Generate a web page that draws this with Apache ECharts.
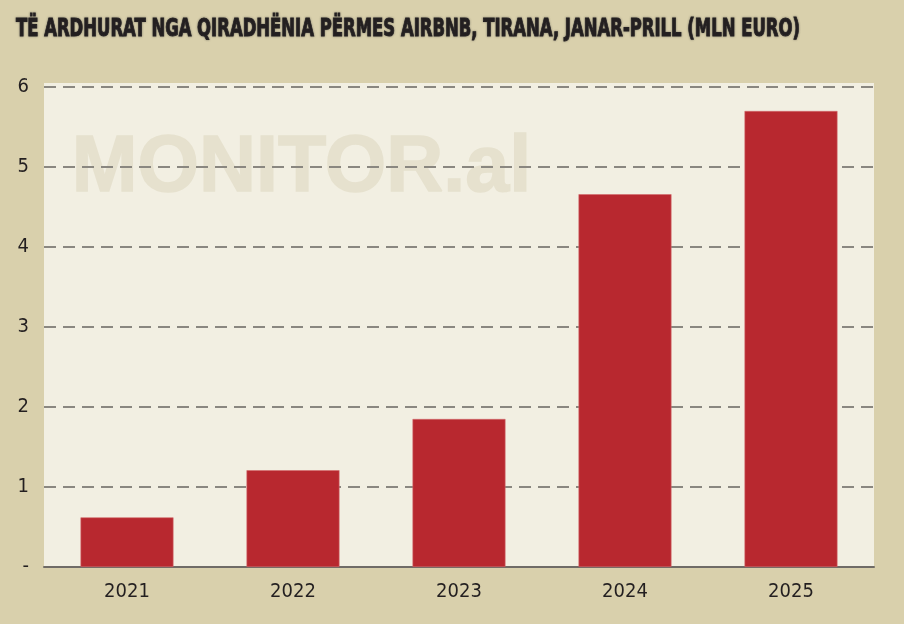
<!DOCTYPE html>
<html>
<head>
<meta charset="utf-8">
<script src="https://cdn.jsdelivr.net/npm/echarts@6/dist/echarts.min.js"></script>
<style>html,body{margin:0;padding:0;background:#d9d0ac;}#c{width:904px;height:624px;}</style>
</head>
<body>
<div id="c"></div>
<script>
const titleText = 'TË ARDHURAT NGA QIRADHËNIA PËRMES AIRBNB, TIRANA, JANAR-PRILL (MLN EURO)';
const watermark = 'MONITOR.al';
const years = ['2021', '2022', '2023', '2024', '2025'];
const revenue = [0.62, 1.21, 1.85, 4.66, 5.70];
const yTicks = [0, 1, 2, 3, 4, 5, 6];

const labelFont = '"DejaVu Sans Condensed", "DejaVu Sans", sans-serif';
const titleFont = 'bold 25px "DejaVu Sans Condensed", "DejaVu Sans", sans-serif';
const cv = document.createElement('canvas').getContext('2d');
cv.font = titleFont;
const tw = cv.measureText(titleText).width;
const sx = 784 / tw;

const chart = echarts.init(document.getElementById('c'), null, {renderer: 'canvas'});
chart.setOption({
  backgroundColor: '#d9d0ac',
  animation: false,
  grid: {left: 44, right: 30, top: 87, bottom: 57},
  graphic: [
    {type: 'rect', z: -20, shape: {x: 44, y: 83, width: 830, height: 485}, style: {fill: '#f2efe2'}},
    {type: 'text', z: -10, left: 71, top: 129, style: {text: watermark, font: 'bold 79px "Liberation Sans"', fill: '#e6e1ce', stroke: '#e6e1ce', lineWidth: 1.5}},
    {type: 'text', x: 16, y: 17, scaleX: sx, style: {text: titleText, font: titleFont, fill: '#231f20', stroke: '#231f20', lineWidth: 0.9, textShadowColor: 'rgba(60,60,60,0.5)', textShadowBlur: 2}}
  ],
  xAxis: {
    type: 'category', data: years,
    axisLine: {show: true, lineStyle: {color: '#6f6b66', width: 2}},
    axisTick: {show: false},
    axisLabel: {color: '#231f20', fontFamily: labelFont, fontSize: 20, margin: 15}
  },
  yAxis: {
    type: 'value', min: 0, max: 6, interval: 1,
    axisLine: {show: false}, axisTick: {show: false},
    axisLabel: {color: '#231f20', fontFamily: labelFont, fontSize: 20, margin: 15,
      formatter: v => (yTicks.indexOf(v) >= 0 ? (v === 0 ? '-' : String(v)) : '')},
    splitLine: {show: true, lineStyle: {color: '#8a8780', width: 2, type: [12, 7]}}
  },
  series: [{
    type: 'bar', data: revenue, barWidth: '56%',
    itemStyle: {color: '#b8282f', borderColor: '#d46a6c', borderWidth: 0.6}
  }]
});
</script>
</body>
</html>
